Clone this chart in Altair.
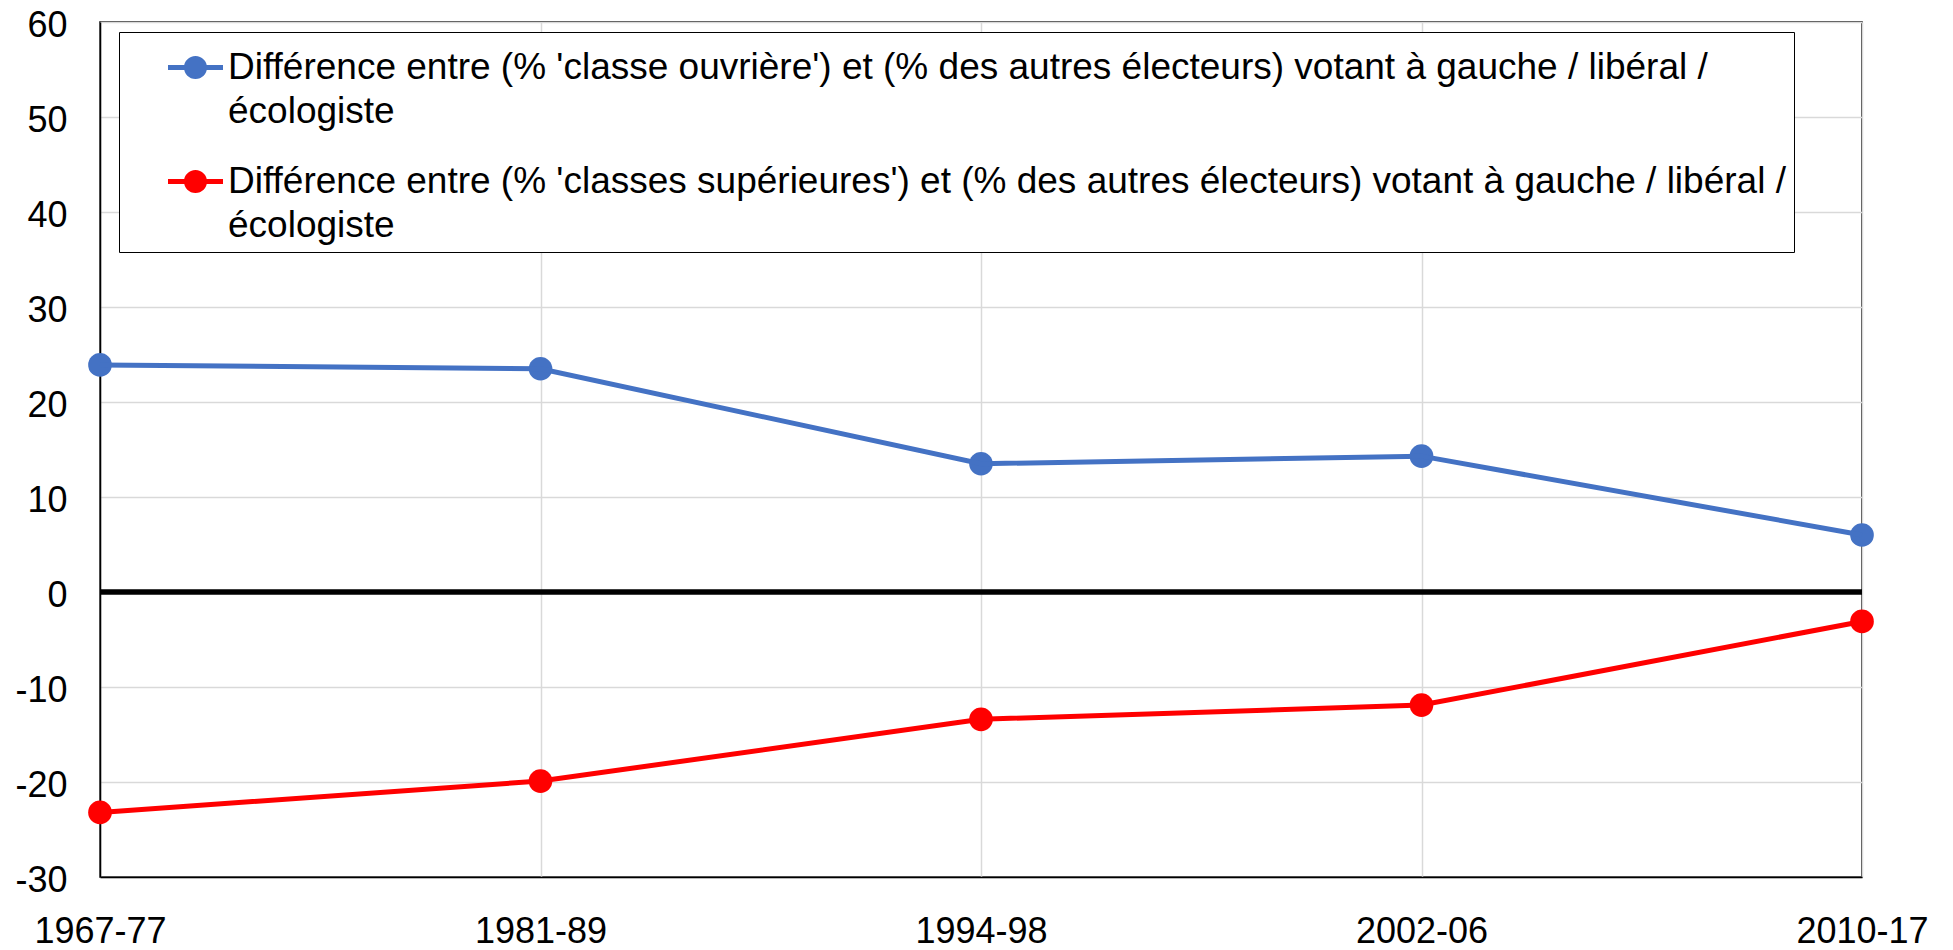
import altair as alt
import pandas as pd

periods = ["1967-77", "1981-89", "1994-98", "2002-06", "2010-17"]
ouvriere = [23.9, 23.5, 13.5, 14.3, 6.0]
superieures = [-23.2, -19.9, -13.4, -11.9, -3.1]
series_names = [
    "Différence entre (% 'classe ouvrière') et (% des autres électeurs) votant à gauche / libéral /|écologiste",
    "Différence entre (% 'classes supérieures') et (% des autres électeurs) votant à gauche / libéral /|écologiste",
]
series_colors = ["#4472C4", "#FF0000"]
y_ticks = list(range(-30, 61, 10))

rows = []
for name, vals in zip(series_names, [ouvriere, superieures]):
    for p, v in zip(periods, vals):
        rows.append({"period": p, "value": v, "series": name})
df = pd.DataFrame(rows)

FONT = "Liberation Sans"
FS = 36
LFS = 37

x = alt.X(
    "period:O", sort=periods,
    scale=alt.Scale(type="point", padding=0),
    axis=alt.Axis(title=None, labelAngle=0, labelFontSize=FS, labelPadding=37,
                  labelLineHeight=FS,
                  ticks=False, grid=True, gridColor="#d9d9d9", gridWidth=1.5,
                  domainColor="black", domainWidth=1.5, labelColor="black",
                  labelFont=FONT),
)
y = alt.Y(
    "value:Q",
    scale=alt.Scale(domain=[-30, 60], nice=False, zero=False),
    axis=alt.Axis(title=None, values=y_ticks, labelFontSize=FS, labelPadding=33,
                  labelExpr="datum.value + ''",
                  labelLineHeight=FS, labelOffset=3,
                  ticks=False, grid=True, gridColor="#d9d9d9", gridWidth=1.5,
                  domainColor="black", domainWidth=1.5, labelColor="black",
                  labelFont=FONT),
)

sym = "M-1,-0.09L1,-0.09L1,0.09L-1,0.09Z M-0.42,0 A0.42,0.42 0 1,1 0.42,0 A0.42,0.42 0 1,1 -0.42,0 Z"

color = alt.Color(
    "series:N",
    scale=alt.Scale(domain=series_names, range=series_colors),
    legend=alt.Legend(
        title=None, orient="none", legendX=19, legendY=10,
        labelExpr="split(datum.label, '|')",
        labelFont=FONT, labelFontSize=LFS, labelColor="black", labelLimit=3000,
        labelBaseline="middle", labelOffset=5,
        symbolType=sym, symbolSize=3025, symbolStrokeWidth=0, symbolOpacity=1,
        symbolOffset=41, padding=8, rowPadding=24,
        strokeColor="black", fillColor="white",
    ),
)

base = alt.Chart(df)

points = base.mark_circle(size=560, opacity=1).encode(x=x, y=y, color=color)
lines = base.mark_line(strokeWidth=5).encode(x=x, y=y, color=color)

zero = alt.Chart(pd.DataFrame({"v": [0]})).mark_rule(color="black", strokeWidth=5.5).encode(
    y=alt.Y("v:Q", scale=alt.Scale(domain=[-30, 60], nice=False, zero=False))
)

chart = alt.layer(zero, points, lines).properties(
    width=1762, height=855,
    padding={"left": 92, "top": 14, "right": 82, "bottom": 78},
    autosize=alt.AutoSizeParams(type="none"),
).configure(
    style={"guide-label": {"lineHeight": 44}},
).configure_view(stroke="black", strokeWidth=1.5)

chart.save("out.html", embed_options={"renderer": "svg", "actions": False})
